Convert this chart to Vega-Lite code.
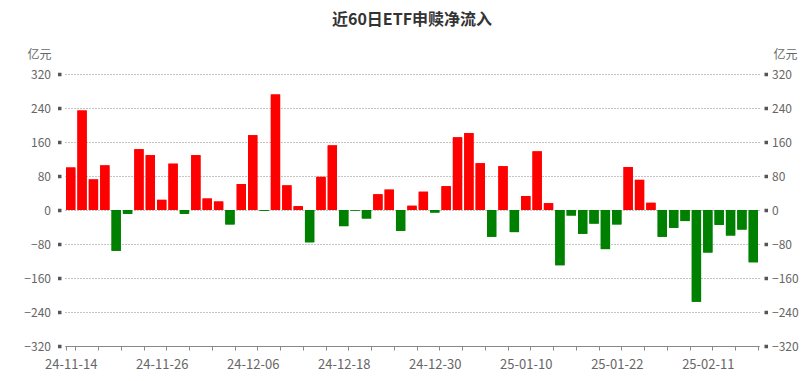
{
  "$schema": "https://vega.github.io/schema/vega-lite/v6.json",
  "width": 694,
  "height": 272,
  "autosize": "none",
  "padding": {"left": 65, "top": 74, "right": 49, "bottom": 35},
  "background": "#ffffff",
  "config": {
    "view": {"stroke": null},
    "font": "Noto Sans CJK SC"
  },
  "title": {
    "text": "近60日ETF申赎净流入",
    "fontSize": 16,
    "fontWeight": "bold",
    "color": "#333333",
    "font": "Noto Sans CJK SC",
    "anchor": "middle",
    "frame": "group",
    "baseline": "bottom",
    "offset": 4
  },
  "data": {
    "values": [
      {"date": "24-11-14", "value": 100},
      {"date": "24-11-15", "value": 234},
      {"date": "24-11-18", "value": 72},
      {"date": "24-11-19", "value": 105},
      {"date": "24-11-20", "value": -96},
      {"date": "24-11-21", "value": -9},
      {"date": "24-11-22", "value": 143},
      {"date": "24-11-25", "value": 129},
      {"date": "24-11-26", "value": 24},
      {"date": "24-11-27", "value": 109},
      {"date": "24-11-28", "value": -9},
      {"date": "24-11-29", "value": 129},
      {"date": "24-12-02", "value": 27},
      {"date": "24-12-03", "value": 20},
      {"date": "24-12-04", "value": -34},
      {"date": "24-12-05", "value": 61},
      {"date": "24-12-06", "value": 176},
      {"date": "24-12-09", "value": -2},
      {"date": "24-12-10", "value": 272},
      {"date": "24-12-11", "value": 58},
      {"date": "24-12-12", "value": 9},
      {"date": "24-12-13", "value": -76},
      {"date": "24-12-16", "value": 78},
      {"date": "24-12-17", "value": 152},
      {"date": "24-12-18", "value": -38},
      {"date": "24-12-19", "value": -1.5},
      {"date": "24-12-20", "value": -20},
      {"date": "24-12-23", "value": 37},
      {"date": "24-12-24", "value": 48},
      {"date": "24-12-25", "value": -49},
      {"date": "24-12-26", "value": 10},
      {"date": "24-12-27", "value": 43},
      {"date": "24-12-30", "value": -6},
      {"date": "24-12-31", "value": 56},
      {"date": "25-01-02", "value": 171},
      {"date": "25-01-03", "value": 181},
      {"date": "25-01-06", "value": 110},
      {"date": "25-01-07", "value": -63},
      {"date": "25-01-08", "value": 103},
      {"date": "25-01-09", "value": -52},
      {"date": "25-01-10", "value": 33},
      {"date": "25-01-13", "value": 138},
      {"date": "25-01-14", "value": 16},
      {"date": "25-01-15", "value": -130},
      {"date": "25-01-16", "value": -13},
      {"date": "25-01-17", "value": -56},
      {"date": "25-01-20", "value": -32},
      {"date": "25-01-21", "value": -92},
      {"date": "25-01-22", "value": -34},
      {"date": "25-01-23", "value": 101},
      {"date": "25-01-24", "value": 71},
      {"date": "25-01-27", "value": 17},
      {"date": "25-02-05", "value": -63},
      {"date": "25-02-06", "value": -42},
      {"date": "25-02-07", "value": -26},
      {"date": "25-02-10", "value": -216},
      {"date": "25-02-11", "value": -100},
      {"date": "25-02-12", "value": -35},
      {"date": "25-02-13", "value": -60},
      {"date": "25-02-14", "value": -46},
      {"date": "25-02-17", "value": -123}
    ]
  },
  "encoding": {
    "x": {
      "field": "date",
      "type": "ordinal",
      "sort": null,
      "scale": {"paddingInner": 0.18, "paddingOuter": 0.09},
      "axis": {
        "title": null,
        "values": ["24-11-14","24-11-18","24-11-20","24-11-22","24-11-26","24-11-28","24-12-02","24-12-04","24-12-06","24-12-10","24-12-12","24-12-16","24-12-18","24-12-20","24-12-24","24-12-26","24-12-30","25-01-02","25-01-06","25-01-08","25-01-10","25-01-14","25-01-16","25-01-20","25-01-22","25-01-24","25-02-05","25-02-07","25-02-11","25-02-13","25-02-17"],
        "labelExpr": "indexof(['24-11-14','24-11-26','24-12-06','24-12-18','24-12-30','25-01-10','25-01-22','25-02-11'], datum.value) >= 0 ? datum.value : ''",
        "labelAngle": 0,
        "labelFontSize": 13,
        "labelColor": "#666666",
        "labelPadding": 8,
        "tickBand": "extent",
        "tickExtra": true,
        "tickSize": 4,
        "tickColor": "#888888",
        "domainColor": "#888888",
        "grid": false,
        "labelOverlap": false
      }
    }
  },
  "layer": [
    {
      "mark": {"type": "bar"},
      "encoding": {
        "y": {
          "field": "value",
          "type": "quantitative",
          "scale": {"domain": [-320, 320], "nice": false},
          "axis": {
            "title": "亿元",
            "titleAngle": 0,
            "titleAlign": "right",
            "titleBaseline": "alphabetic",
            "titleX": -10,
            "titleY": -16,
            "titleFontSize": 12,
            "titleFontWeight": "normal",
            "titleColor": "#666666",
            "values": [-320, -240, -160, -80, 0, 80, 160, 240, 320],
            "offset": 4,
            "domain": false,
            "tickSize": 3.5,
            "tickWidth": 3.5,
            "tickColor": "#555555",
            "labelPadding": 7,
            "labelFontSize": 12,
            "labelColor": "#666666",
            "grid": true,
            "gridDash": [1, 2],
            "gridColor": "#888888",
            "gridWidth": 1
          }
        },
        "color": {
          "condition": {"test": "datum.value >= 0", "value": "#ff0000"},
          "value": "#008000"
        }
      }
    },
    {
      "mark": {"type": "bar"},
      "encoding": {
        "y": {
          "field": "value",
          "type": "quantitative",
          "scale": {"domain": [-320, 320], "nice": false},
          "axis": {
            "orient": "right",
            "title": "亿元",
            "titleAngle": 0,
            "titleAlign": "left",
            "titleBaseline": "alphabetic",
            "titleX": 9,
            "titleY": -16,
            "titleFontSize": 12,
            "titleFontWeight": "normal",
            "titleColor": "#666666",
            "values": [-320, -240, -160, -80, 0, 80, 160, 240, 320],
            "offset": 5,
            "domain": false,
            "tickSize": 3.5,
            "tickWidth": 3.5,
            "tickColor": "#555555",
            "labelPadding": 4,
            "labelFontSize": 12,
            "labelColor": "#666666",
            "grid": false
          }
        },
        "color": {
          "condition": {"test": "datum.value >= 0", "value": "#ff0000"},
          "value": "#008000"
        }
      }
    }
  ],
  "resolve": {"axis": {"y": "independent"}}
}
